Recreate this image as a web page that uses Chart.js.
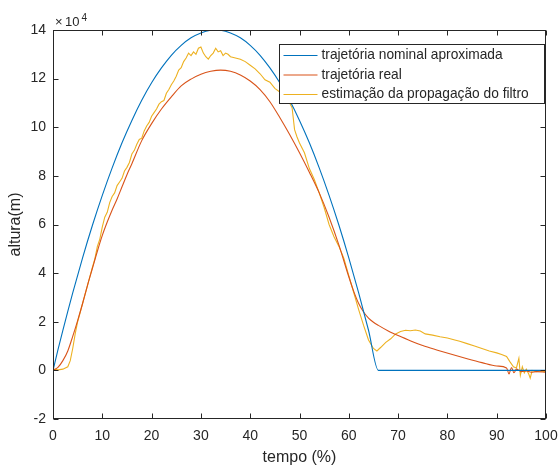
<!DOCTYPE html>
<html>
<head>
<meta charset="utf-8">
<script src="https://cdn.jsdelivr.net/npm/chart.js@4/dist/chart.umd.min.js"></script>
<style>
  html, body { margin: 0; padding: 0; background: #fff; }
  canvas { display: block; }
</style>
</head>
<body>
<canvas id="trajChart" width="558" height="470"></canvas>
<script>
// valores em unidades de 10^4 m
const seriesLabels = ['trajetória nominal aproximada', 'trajetória real', 'estimação da propagação do filtro'];
const seriesColors = ['#0072BD', '#D95319', '#EDB120'];

const nominalX = [0, 1, 2, 3, 4, 6, 8, 10, 12, 14, 16, 18, 20, 22, 24, 26, 28, 30, 32, 33, 34, 36, 38, 40, 42, 44, 46, 48, 50, 52, 54, 56, 58, 60, 62, 64, 66, 100];
const nominalY = [0, 0.84, 1.65, 2.43, 3.19, 4.63, 5.97, 7.2, 8.33, 9.36, 10.28, 11.11, 11.83, 12.44, 12.96, 13.37, 13.68, 13.88, 13.99, 14, 13.99, 13.88, 13.68, 13.37, 12.96, 12.44, 11.83, 11.11, 10.28, 9.36, 8.33, 7.2, 5.97, 4.63, 3.19, 1.65, 0, 0];

const realX = [0, 1, 2, 3, 4, 5, 6, 7, 8, 9, 10, 11, 12, 13, 14, 15, 16, 18, 20, 22, 24, 26, 28, 30, 32, 34, 36, 38, 40, 42, 44, 46, 48, 50, 52, 54, 56, 58, 60, 61, 62, 63, 64, 65, 66, 68, 70, 72, 75, 78, 81, 84, 87, 90, 92, 92.5, 93, 93.5, 94, 95, 96, 97, 98, 100];
const realY = [0, 0.12, 0.4, 0.8, 1.4, 2.05, 2.75, 3.5, 4.2, 4.9, 5.55, 6.1, 6.6, 7.05, 7.55, 8.05, 8.5, 9.45, 10.15, 10.75, 11.25, 11.7, 11.98, 12.18, 12.3, 12.35, 12.3, 12.15, 11.9, 11.55, 11.05, 10.4, 9.7, 8.95, 8.15, 7.3, 6.3, 5.15, 3.85, 3.25, 2.75, 2.4, 2.15, 1.98, 1.85, 1.62, 1.43, 1.26, 1.02, 0.83, 0.65, 0.48, 0.32, 0.18, 0.1, -0.15, 0.12, -0.1, 0.05, -0.05, -0.02, -0.08, -0.05, -0.08];

const estX = [0, 1, 2, 3, 3.5, 4, 4.5, 5, 6, 7, 8, 8.5, 9, 9.5, 10, 10.5, 11, 11.5, 12, 12.5, 13, 13.5, 14, 14.5, 15, 15.5, 16, 16.5, 17, 17.5, 18, 18.5, 19, 19.5, 20, 20.5, 21, 21.5, 22, 22.5, 23, 23.5, 24, 24.5, 25, 25.5, 26, 26.5, 27, 27.5, 28, 28.5, 29, 29.5, 30, 30.5, 31, 31.5, 32, 32.5, 33, 33.5, 34, 34.5, 35, 35.5, 36, 37, 38, 39, 40, 41, 42, 43, 44, 45, 46, 47, 47.5, 48, 48.5, 49, 49.5, 50, 51, 52, 53, 54, 55, 56, 57, 58, 59, 60, 61, 62, 63, 64, 65, 65.7, 66.5, 67.5, 68.5, 69.5, 70.5, 71.5, 72.5, 73.5, 74.5, 75.5, 77, 78.5, 80, 81.5, 82.5, 84, 85.5, 87, 88.5, 90, 91, 92, 92.7, 93.4, 94, 94.5, 94.8, 95.2, 95.6, 96, 96.5, 96.8, 97.2, 98, 99, 100];
const estY = [0.05, 0.02, 0.05, 0.15, 0.4, 0.9, 1.5, 2.0, 2.75, 3.5, 4.25, 4.6, 5.1, 5.4, 5.9, 6.3, 6.5, 6.9, 7.15, 7.3, 7.6, 7.75, 7.9, 8.2, 8.35, 8.55, 8.9, 9.05, 9.3, 9.5, 9.55, 9.85, 10.05, 10.2, 10.45, 10.6, 10.75, 10.95, 11.05, 11.1, 11.4, 11.55, 11.75, 11.9, 12.1, 12.35, 12.45, 12.7, 12.85, 13.05, 12.95, 13.1, 13.0, 13.25, 13.3, 13.05, 12.9, 12.8, 12.95, 13.05, 13.25, 13.1, 13.15, 12.95, 13.05, 13.0, 12.9, 12.85, 12.8, 12.7, 12.55, 12.4, 12.2, 11.95, 11.85, 11.6, 11.45, 11.3, 11.15, 11.0, 10.8, 9.9, 9.6, 9.35, 8.95, 8.3, 7.85, 7.3, 6.7, 6.0, 5.5, 5.1, 4.6, 3.9, 3.2, 2.5, 1.85, 1.25, 0.9, 0.8, 0.95, 1.15, 1.3, 1.5, 1.6, 1.65, 1.63, 1.66, 1.62, 1.5, 1.45, 1.38, 1.33, 1.25, 1.2, 1.1, 1.0, 0.9, 0.8, 0.72, 0.65, 0.57, 0.35, 0.15, 0.1, 0.5, -0.2, 0.15, -0.1, 0.05, -0.15, -0.32, 0.0, -0.05, -0.02, -0.05];

const xTickStep = 10;
const yTickStep = 2;

const toPoints = (xs, ys) => xs.map((v, i) => ({ x: v, y: ys[i] }));

const axisColor = '#262626';
const fontFam = "'Liberation Sans', Arial, Helvetica, sans-serif";
Chart.defaults.font.family = fontFam;
Chart.defaults.color = axisColor;

// moldura com ticks para dentro, expoente e legenda em caixa (estilo matlab)
const matlabFrame = {
  id: 'matlabFrame',
  afterDraw(chart) {
    const { ctx, chartArea: a, scales: { x, y } } = chart;
    const L = Math.round(a.left) + 0.5, R = Math.round(a.right) - 0.5;
    const T = Math.round(a.top) + 0.5, B = Math.round(a.bottom) - 0.5;
    ctx.save();
    ctx.strokeStyle = axisColor;
    ctx.lineWidth = 1;
    ctx.strokeRect(L, T, R - L, B - T);
    ctx.beginPath();
    x.ticks.forEach(t => {
      const px = Math.round(x.getPixelForValue(t.value)) + 0.5;
      ctx.moveTo(px, B); ctx.lineTo(px, B - 5);
      ctx.moveTo(px, T); ctx.lineTo(px, T + 5);
    });
    y.ticks.forEach(t => {
      const py = Math.round(y.getPixelForValue(t.value)) + 0.5;
      ctx.moveTo(L, py); ctx.lineTo(L + 5, py);
      ctx.moveTo(R, py); ctx.lineTo(R - 5, py);
    });
    ctx.stroke();

    // x 10^4
    ctx.fillStyle = axisColor;
    ctx.textBaseline = 'alphabetic';
    ctx.textAlign = 'left';
    ctx.font = '13px ' + fontFam;
    ctx.fillText('\u00d7', a.left + 2, a.top - 4);
    ctx.fillText('10', a.left + 12, a.top - 4);
    ctx.font = '10px ' + fontFam;
    ctx.fillText('4', a.left + 28.5, a.top - 9.5);

    // legenda
    const ds = chart.data.datasets;
    ctx.font = '13.75px ' + fontFam;
    const tw = Math.max(...ds.map(d => ctx.measureText(d.label).width));
    const bw = Math.round(42 + tw + 16), bh = 59;
    const bx = Math.round(a.right - 2 - bw) + 0.5, by = Math.round(a.top + 14) + 0.5;
    ctx.fillStyle = '#fff';
    ctx.fillRect(bx, by, bw, bh);
    ctx.strokeStyle = axisColor;
    ctx.strokeRect(bx, by, bw, bh);
    ds.forEach((d, i) => {
      const cy = by + 11 + i * 19.5;
      ctx.strokeStyle = d.borderColor;
      ctx.lineWidth = 1.2;
      ctx.beginPath();
      ctx.moveTo(bx + 4, cy); ctx.lineTo(bx + 38, cy);
      ctx.stroke();
      ctx.fillStyle = axisColor;
      ctx.textBaseline = 'middle';
      ctx.fillText(d.label, bx + 42, cy);
    });
    ctx.restore();
  }
};

const lineDs = (i, xs, ys, smooth) => ({
  label: seriesLabels[i],
  data: toPoints(xs, ys),
  borderColor: seriesColors[i],
  backgroundColor: seriesColors[i],
  borderWidth: 1.1,
  pointRadius: 0,
  fill: false,
  tension: smooth ? 0.4 : 0,
  cubicInterpolationMode: smooth ? 'monotone' : 'default'
});

new Chart(document.getElementById('trajChart'), {
  type: 'line',
  data: {
    datasets: [
      lineDs(0, nominalX, nominalY, true),
      lineDs(1, realX, realY, true),
      lineDs(2, estX, estY, false)
    ]
  },
  options: {
    responsive: false,
    animation: false,
    devicePixelRatio: 1,
    layout: { padding: { top: 30, right: 12, left: 0, bottom: 0 } },
    plugins: { legend: { display: false }, tooltip: { enabled: false } },
    scales: {
      x: {
        type: 'linear',
        min: 0, max: 100,
        grid: { display: false, drawTicks: false },
        border: { display: false },
        ticks: { stepSize: xTickStep, autoSkip: false, maxRotation: 0, padding: 9, color: axisColor, font: { size: 14 } },
        title: { display: true, text: 'tempo (%)', color: axisColor, font: { size: 16 }, padding: { top: 0, bottom: 3 } },
        afterFit: s => { s.height = 51; s.paddingLeft = 0; s.paddingRight = 0; }
      },
      y: {
        type: 'linear',
        min: -2, max: 14,
        grid: { display: false, drawTicks: false },
        border: { display: false },
        ticks: { stepSize: yTickStep, autoSkip: false, padding: 7, color: axisColor, font: { size: 14 } },
        title: { display: true, text: 'altura(m)', color: axisColor, font: { size: 16 }, padding: { top: 6, bottom: 0 } },
        afterFit: s => { s.width = 53; s.paddingTop = 0; s.paddingBottom = 0; }
      }
    }
  },
  plugins: [matlabFrame]
});
</script>
</body>
</html>
